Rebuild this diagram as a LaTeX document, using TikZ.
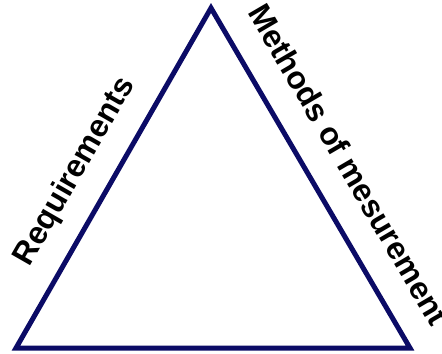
\documentclass[tikz,border=0pt]{standalone}
\usepackage{fontspec}
\setmainfont{Liberation Sans}
\usetikzlibrary{positioning}
\definecolor{edge}{HTML}{0B0B66}

\begin{document}
\begin{tikzpicture}[
  x=0.02cm, y=-0.02cm,
  side/.style={line width=0.1cm, edge, line join=miter},
  lbl/.style={font=\fontsize{18}{20}\selectfont\bfseries, text=black, sloped, inner sep=0pt},
]
  \useasboundingbox (0,0) rectangle (442,353);
  % corners of the triangle
  \coordinate (top) at (211,8);
  \coordinate (bl) at (16,348);
  \coordinate (br) at (410,348);

  \draw[side] (bl) -- (top)
      node[lbl, pos=0.465, above=0.38cm] (req) {Requirements}
    -- (br)
      node[lbl, pos=0.52, above=0.52cm] (meth) {Methods of mesurement}
    -- cycle;
\end{tikzpicture}
\end{document}
